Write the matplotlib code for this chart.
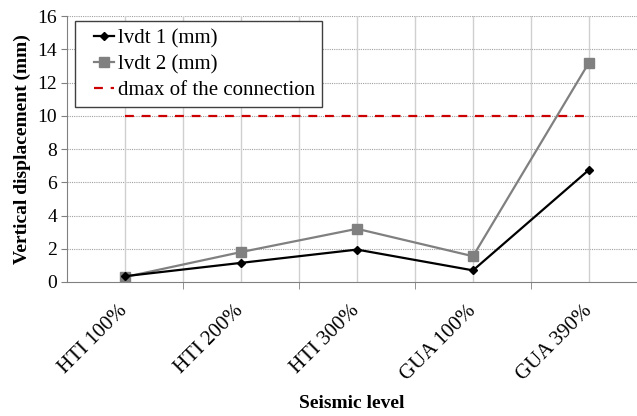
import numpy as np
import matplotlib.pyplot as plt
from matplotlib.legend_handler import HandlerLine2D

plt.rcParams["font.family"] = ["Liberation Serif", "DejaVu Serif"]

levels = ["HTI 100%", "HTI 200%", "HTI 300%", "GUA 100%", "GUA 390%"]
lvdt1 = [0.35, 1.15, 1.95, 0.7, 6.75]
lvdt2 = [0.3, 1.8, 3.2, 1.55, 13.2]
dmax = [10, 10, 10, 10, 10]

x = np.arange(len(levels))

fig = plt.figure(figsize=(6.37, 4.16), dpi=100)
ax = fig.add_axes([67 / 637, 1 - 282 / 416, 570 / 637, 266 / 416])

# gridlines
for yv in np.arange(2, 17, 2):
    ax.axhline(yv, color="#a0a0a0", lw=0.8, ls=(0, (1, 1)), zorder=0)
for xv in np.arange(0, 4.5, 0.5):
    ax.axvline(xv, color="#d0d0d0", lw=1.0, zorder=0)

l1, = ax.plot(x, lvdt1, color="black", lw=1.6, marker="D", ms=4.5, label="lvdt 1 (mm)", zorder=3)
l2, = ax.plot(x, lvdt2, color="#808080", lw=1.6, marker="s", ms=6.5, label="lvdt 2 (mm)", zorder=2)
l3, = ax.plot(x, dmax, color="#cc0000", lw=1.6, ls=(0, (4, 3.5)), label="dmax of the connection", zorder=2)

ax.set_xlim(-0.5, 570 / 116 - 0.5)
ax.set_ylim(0, 16)
ax.set_yticks(np.arange(0, 17, 2))
ax.set_xticks(x)
ax.set_xticklabels(levels, rotation=45, ha="right", va="center", rotation_mode="anchor", fontsize=15)
ax.set_xticks(np.arange(0.5, 4, 1), minor=True)
ax.tick_params(axis="x", which="major", length=0, pad=19)
ax.tick_params(axis="x", which="minor", length=5, color="#808080", direction="out")
ax.tick_params(axis="y", labelsize=14, length=4, color="#808080", direction="out", pad=3)

for s in ["top", "right"]:
    ax.spines[s].set_visible(False)
ax.spines["left"].set_color("#808080")
ax.spines["bottom"].set_color("#808080")

ax.set_ylabel("Vertical displacement (mm)", fontsize=14, fontweight="bold", labelpad=5)
fig.text(352 / 637, 1 - 403 / 416, "Seismic level", fontsize=14, fontweight="bold",
         ha="center", va="center")

hm = {h: HandlerLine2D(xpad=0.58) for h in (l1, l2, l3)}
leg = ax.legend(loc="upper left", bbox_to_anchor=(0.014, 0.98), fontsize=15,
                fancybox=False, framealpha=1, edgecolor="#404040",
                handlelength=1.5, handletextpad=0.2, borderpad=0.35, labelspacing=0.3,
                borderaxespad=0, handler_map=hm)
leg.get_frame().set_linewidth(1.0)

fig.savefig("out.png", dpi=100)
